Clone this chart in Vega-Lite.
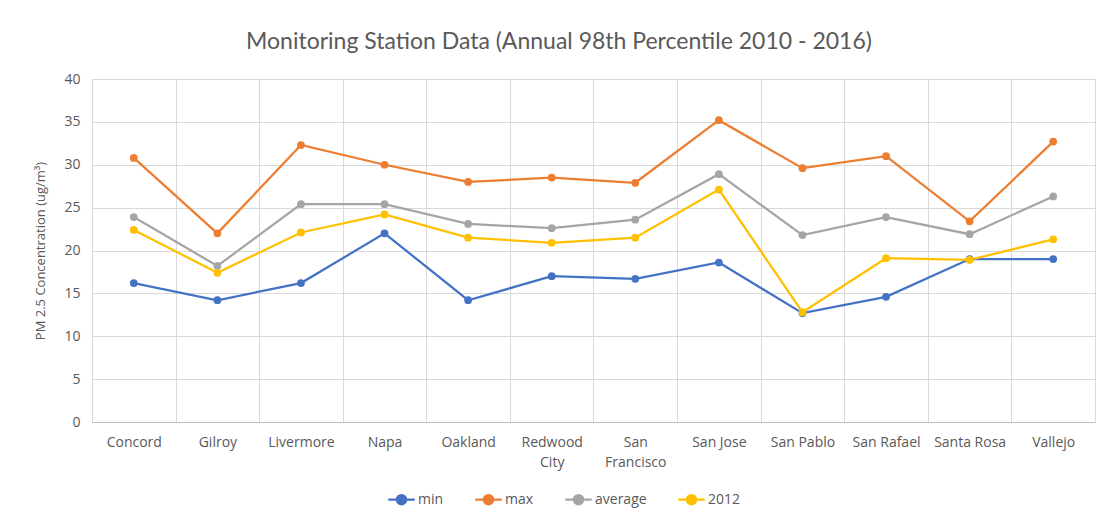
{
  "$schema": "https://vega.github.io/schema/vega-lite/v6.json",
  "width": 1003,
  "height": 343,
  "padding": {"left": 34, "top": 31, "right": 5, "bottom": 5},
  "background": "white",
  "title": {
    "text": "Monitoring Station Data (Annual 98th Percentile 2010 - 2016)",
    "font": "Lato",
    "fontSize": 23,
    "fontWeight": "normal",
    "color": "#595959",
    "anchor": "middle",
    "frame": "bounds",
    "dx": -6,
    "offset": 18
  },
  "data": {
    "values": [
      {"station": "Concord", "series": "min", "value": 16.2},
      {"station": "Gilroy", "series": "min", "value": 14.2},
      {"station": "Livermore", "series": "min", "value": 16.2},
      {"station": "Napa", "series": "min", "value": 22.0},
      {"station": "Oakland", "series": "min", "value": 14.2},
      {"station": "Redwood City", "series": "min", "value": 17.0},
      {"station": "San Francisco", "series": "min", "value": 16.7},
      {"station": "San Jose", "series": "min", "value": 18.6},
      {"station": "San Pablo", "series": "min", "value": 12.7},
      {"station": "San Rafael", "series": "min", "value": 14.6},
      {"station": "Santa Rosa", "series": "min", "value": 19.0},
      {"station": "Vallejo", "series": "min", "value": 19.0},
      {"station": "Concord", "series": "max", "value": 30.8},
      {"station": "Gilroy", "series": "max", "value": 22.0},
      {"station": "Livermore", "series": "max", "value": 32.3},
      {"station": "Napa", "series": "max", "value": 30.0},
      {"station": "Oakland", "series": "max", "value": 28.0},
      {"station": "Redwood City", "series": "max", "value": 28.5},
      {"station": "San Francisco", "series": "max", "value": 27.9},
      {"station": "San Jose", "series": "max", "value": 35.2},
      {"station": "San Pablo", "series": "max", "value": 29.6},
      {"station": "San Rafael", "series": "max", "value": 31.0},
      {"station": "Santa Rosa", "series": "max", "value": 23.4},
      {"station": "Vallejo", "series": "max", "value": 32.7},
      {"station": "Concord", "series": "average", "value": 23.9},
      {"station": "Gilroy", "series": "average", "value": 18.2},
      {"station": "Livermore", "series": "average", "value": 25.4},
      {"station": "Napa", "series": "average", "value": 25.4},
      {"station": "Oakland", "series": "average", "value": 23.1},
      {"station": "Redwood City", "series": "average", "value": 22.6},
      {"station": "San Francisco", "series": "average", "value": 23.6},
      {"station": "San Jose", "series": "average", "value": 28.9},
      {"station": "San Pablo", "series": "average", "value": 21.8},
      {"station": "San Rafael", "series": "average", "value": 23.9},
      {"station": "Santa Rosa", "series": "average", "value": 21.9},
      {"station": "Vallejo", "series": "average", "value": 26.3},
      {"station": "Concord", "series": "2012", "value": 22.4},
      {"station": "Gilroy", "series": "2012", "value": 17.4},
      {"station": "Livermore", "series": "2012", "value": 22.1},
      {"station": "Napa", "series": "2012", "value": 24.2},
      {"station": "Oakland", "series": "2012", "value": 21.5},
      {"station": "Redwood City", "series": "2012", "value": 20.9},
      {"station": "San Francisco", "series": "2012", "value": 21.5},
      {"station": "San Jose", "series": "2012", "value": 27.1},
      {"station": "San Pablo", "series": "2012", "value": 12.8},
      {"station": "San Rafael", "series": "2012", "value": 19.1},
      {"station": "Santa Rosa", "series": "2012", "value": 18.9},
      {"station": "Vallejo", "series": "2012", "value": 21.3}
    ]
  },
  "mark": {"type": "line", "strokeWidth": 2.25, "point": {"size": 60, "filled": true, "opacity": 1}},
  "encoding": {
    "x": {
      "field": "station",
      "type": "nominal",
      "sort": ["Concord", "Gilroy", "Livermore", "Napa", "Oakland", "Redwood City", "San Francisco", "San Jose", "San Pablo", "San Rafael", "Santa Rosa", "Vallejo"],
      "scale": {"type": "band", "paddingInner": 0, "paddingOuter": 0},
      "axis": {
        "title": null,
        "labelAngle": 0,
        "tickBand": "extent",
        "ticks": false,
        "grid": true,
        "gridColor": "#d9d9d9",
        "domainColor": "#bfbfbf",
        "labelPadding": 13,
        "labelFontSize": 14,
        "labelLineHeight": 20,
        "labelOverlap": false,
        "labelExpr": "datum.label == 'Redwood City' ? ['Redwood', 'City'] : datum.label == 'San Francisco' ? ['San', 'Francisco'] : datum.label"
      }
    },
    "y": {
      "field": "value",
      "type": "quantitative",
      "scale": {"domain": [0, 40]},
      "axis": {
        "title": "PM 2.5 Concentration (ug/m³)",
        "values": [0, 5, 10, 15, 20, 25, 30, 35, 40],
        "domain": false,
        "ticks": false,
        "gridColor": "#d9d9d9",
        "labelPadding": 12,
        "labelFontSize": 14,
        "titlePadding": 16
      }
    },
    "color": {
      "field": "series",
      "type": "nominal",
      "sort": ["min", "max", "average", "2012"],
      "scale": {"domain": ["min", "max", "average", "2012"], "range": ["#4472C4", "#ED7D31", "#A5A5A5", "#FFC000"]},
      "legend": {
        "title": null,
        "orient": "none",
        "legendX": 295,
        "legendY": 406,
        "direction": "horizontal",
        "symbolType": "M-1,0H1M-0.35,0A0.35,0.35 0 1,0 0.35,0A0.35,0.35 0 1,0 -0.35,0",
        "symbolSize": 700,
        "symbolStrokeWidth": 2.25,
        "columnPadding": 26,
        "labelOffset": 2,
        "labelFontSize": 14
      }
    }
  },
  "config": {
    "view": {"stroke": "#d9d9d9"},
    "font": "Open Sans",
    "axis": {"labelFont": "Open Sans", "labelFontSize": 13, "labelColor": "#595959", "titleFont": "Open Sans", "titleFontSize": 13, "titleColor": "#595959", "titleFontWeight": "normal"},
    "legend": {"labelFont": "Open Sans", "labelFontSize": 13, "labelColor": "#595959"}
  }
}
